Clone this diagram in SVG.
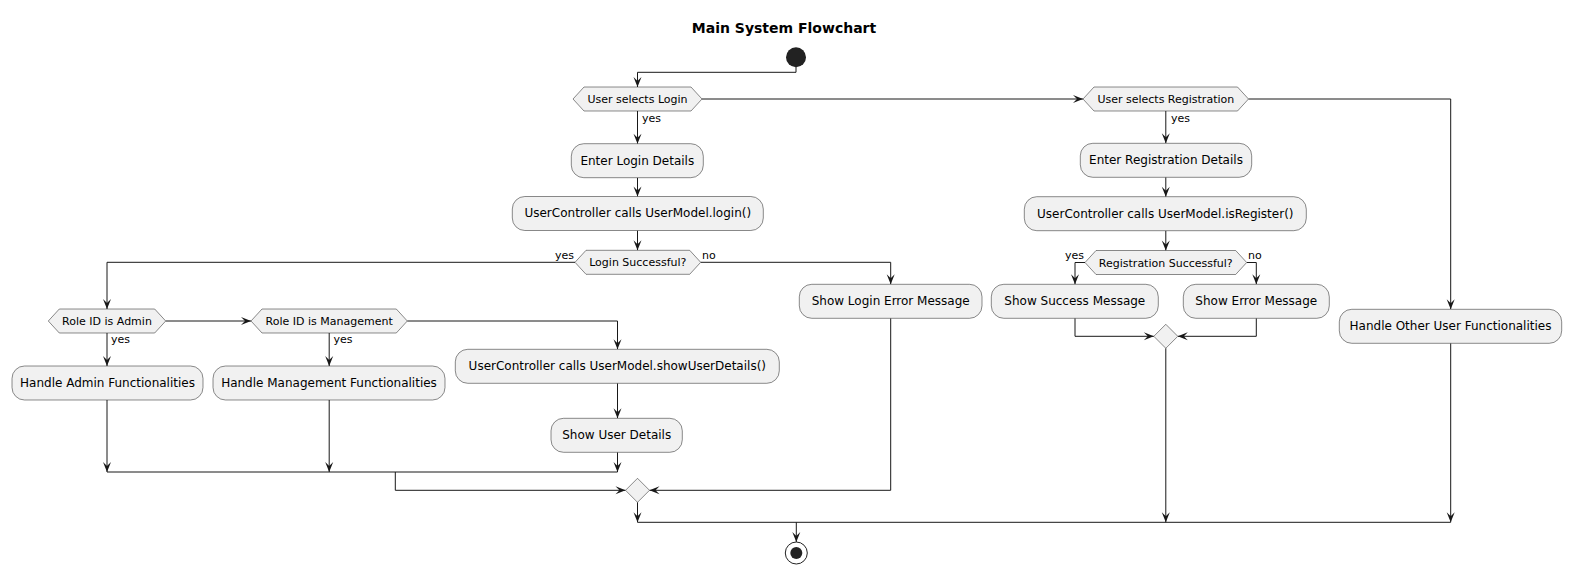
<svg xmlns="http://www.w3.org/2000/svg" width="1571" height="574" viewBox="0 0 1571 574">
<style>
.box{fill:#F1F1F1;stroke:#181818;stroke-width:0.5}
.hex{fill:#F1F1F1;stroke:#181818;stroke-width:0.5}
.t12{font-family:"DejaVu Sans",sans-serif;font-size:12px;fill:#000;text-anchor:middle}
.t11{font-family:"DejaVu Sans",sans-serif;font-size:11px;fill:#000;text-anchor:middle}
.lbl{font-family:"DejaVu Sans",sans-serif;font-size:11px;fill:#000}
.title{font-family:"DejaVu Sans",sans-serif;font-size:14px;font-weight:bold;fill:#000;text-anchor:middle}
.ln{fill:none;stroke:#181818;stroke-width:1}
.arr{fill:none;stroke:#181818;stroke-width:1;marker-end:url(#ah)}
</style>
<defs>
<marker id="ah" markerUnits="userSpaceOnUse" markerWidth="10" markerHeight="8" refX="10" refY="4" orient="auto" overflow="visible">
<path d="M0,0 L10,4 L0,8 L4,4 Z" fill="#181818"/>
</marker>
</defs>
<rect width="1571" height="574" fill="#FFFFFF"/>
<text class="title" x="784" y="33">Main System Flowchart</text>

<g id="connectors">
<polyline class="arr" points="796,67 796,72.3 637.5,72.3 637.5,87"/>
<polyline class="arr" points="702,99 1083,99"/>
<polyline class="arr" points="637.5,111 637.5,143.7"/>
<polyline class="arr" points="637.5,177.7 637.5,196.5"/>
<polyline class="arr" points="637.5,230.5 637.5,250.3"/>
<polyline class="arr" points="575,262.3 107,262.3 107,309"/>
<polyline class="arr" points="700.7,262.3 890.7,262.3 890.7,284.3"/>
<polyline class="arr" points="165.7,321 251,321"/>
<polyline class="arr" points="107,333 107,366"/>
<polyline class="arr" points="329.2,333 329.2,366"/>
<polyline class="arr" points="407.3,321 617.5,321 617.5,349.3"/>
<polyline class="arr" points="617.5,383.3 617.5,418.3"/>
<polyline class="arr" points="617.5,452.3 617.5,472"/>
<polyline class="arr" points="107,400 107,472"/>
<polyline class="arr" points="329.2,400 329.2,472"/>
<polyline class="ln" points="107,472 617.5,472"/>
<polyline class="arr" points="395.3,472 395.3,490.3 625.5,490.3"/>
<polyline class="arr" points="890.7,318.3 890.7,490.3 649.5,490.3"/>
<polyline class="arr" points="637.5,502.3 637.5,522.3"/>
<polyline class="arr" points="1248.5,99 1450.7,99 1450.7,309.3"/>
<polyline class="arr" points="1165.8,111 1165.8,143.3"/>
<polyline class="arr" points="1165.8,177.3 1165.8,196.7"/>
<polyline class="arr" points="1165.8,230.7 1165.8,250.5"/>
<polyline class="arr" points="1085,262.5 1075,262.5 1075,284.3"/>
<polyline class="arr" points="1246.7,262.5 1256.3,262.5 1256.3,284.3"/>
<polyline class="arr" points="1075,318.3 1075,336.3 1153.8,336.3"/>
<polyline class="arr" points="1256.3,318.3 1256.3,336.3 1177.8,336.3"/>
<polyline class="arr" points="1165.8,348.3 1165.8,522.3"/>
<polyline class="arr" points="1450.7,343.3 1450.7,522.3"/>
<polyline class="ln" points="637.5,522.3 1450.7,522.3"/>
<polyline class="arr" points="796.3,522.3 796.3,542"/>
<text class="lbl" x="642" y="122">yes</text>
<text class="lbl" x="574" y="259" text-anchor="end">yes</text>
<text class="lbl" x="702" y="259">no</text>
<text class="lbl" x="111" y="343">yes</text>
<text class="lbl" x="333.5" y="343">yes</text>
<text class="lbl" x="1171" y="122">yes</text>
<text class="lbl" x="1084" y="259" text-anchor="end">yes</text>
<text class="lbl" x="1248" y="259">no</text>
</g>

<g id="start"><circle cx="796" cy="57.3" r="10" fill="#222222"/></g>

<g id="selectLogin">
<polygon class="hex" points="573,99 584,87 691,87 702,99 691,111 584,111"/>
<text class="t11" x="637.5" y="103">User selects Login</text>
</g>
<g id="enterLogin">
<rect class="box" x="571.3" y="143.7" width="132" height="34" rx="12.5"/>
<text class="t12" x="637.3" y="164.5">Enter Login Details</text>
</g>
<g id="callLogin">
<rect class="box" x="512.3" y="196.5" width="251" height="34" rx="12.5"/>
<text class="t12" x="637.8" y="217.3">UserController calls UserModel.login()</text>
</g>
<g id="loginSuccess">
<polygon class="hex" points="575,262.3 586,250.3 689.7,250.3 700.7,262.3 689.7,274.3 586,274.3"/>
<text class="t11" x="637.8" y="266.3">Login Successful?</text>
</g>
<g id="roleAdmin">
<polygon class="hex" points="48.3,321 59.3,309 154.7,309 165.7,321 154.7,333 59.3,333"/>
<text class="t11" x="107" y="325">Role ID is Admin</text>
</g>
<g id="roleMgmt">
<polygon class="hex" points="251,321 262,309 396.3,309 407.3,321 396.3,333 262,333"/>
<text class="t11" x="329.2" y="325">Role ID is Management</text>
</g>
<g id="adminFunc">
<rect class="box" x="12" y="366" width="191" height="34" rx="12.5"/>
<text class="t12" x="107.5" y="387">Handle Admin Functionalities</text>
</g>
<g id="mgmtFunc">
<rect class="box" x="213" y="366" width="232" height="34" rx="12.5"/>
<text class="t12" x="329" y="387">Handle Management Functionalities</text>
</g>
<g id="callShowUser">
<rect class="box" x="455.3" y="349.3" width="324" height="34" rx="12.5"/>
<text class="t12" x="617.3" y="370.1">UserController calls UserModel.showUserDetails()</text>
</g>
<g id="showUser">
<rect class="box" x="551" y="418.3" width="131.3" height="34" rx="12.5"/>
<text class="t12" x="616.7" y="439.1">Show User Details</text>
</g>
<g id="loginError">
<rect class="box" x="799.3" y="284.3" width="182.7" height="34" rx="12.5"/>
<text class="t12" x="890.7" y="305.1">Show Login Error Message</text>
</g>
<g id="mergeLogin">
<polygon class="hex" points="625.5,490.3 637.5,478.3 649.5,490.3 637.5,502.3"/>
</g>
<g id="selectReg">
<polygon class="hex" points="1083,99 1094,87 1237.5,87 1248.5,99 1237.5,111 1094,111"/>
<text class="t11" x="1165.8" y="103">User selects Registration</text>
</g>
<g id="enterReg">
<rect class="box" x="1080.3" y="143.3" width="171.4" height="34" rx="12.5"/>
<text class="t12" x="1166" y="164.1">Enter Registration Details</text>
</g>
<g id="callReg">
<rect class="box" x="1024.3" y="196.7" width="282" height="34" rx="12.5"/>
<text class="t12" x="1165.3" y="217.5">UserController calls UserModel.isRegister()</text>
</g>
<g id="regSuccess">
<polygon class="hex" points="1085,262.5 1096,250.5 1235.7,250.5 1246.7,262.5 1235.7,274.5 1096,274.5"/>
<text class="t11" x="1165.8" y="266.5">Registration Successful?</text>
</g>
<g id="successMsg">
<rect class="box" x="991.3" y="284.3" width="167" height="34" rx="12.5"/>
<text class="t12" x="1074.8" y="305.1">Show Success Message</text>
</g>
<g id="errorMsg">
<rect class="box" x="1183.3" y="284.3" width="146" height="34" rx="12.5"/>
<text class="t12" x="1256.3" y="305.1">Show Error Message</text>
</g>
<g id="mergeReg">
<polygon class="hex" points="1153.8,336.3 1165.8,324.3 1177.8,336.3 1165.8,348.3"/>
</g>
<g id="otherFunc">
<rect class="box" x="1339.3" y="309.3" width="222.4" height="34" rx="12.5"/>
<text class="t12" x="1450.5" y="330.1">Handle Other User Functionalities</text>
</g>
<g id="end">
<circle cx="796.3" cy="553" r="11" fill="none" stroke="#222222" stroke-width="1"/>
<circle cx="796.3" cy="553" r="6" fill="#222222"/>
</g>
</svg>
